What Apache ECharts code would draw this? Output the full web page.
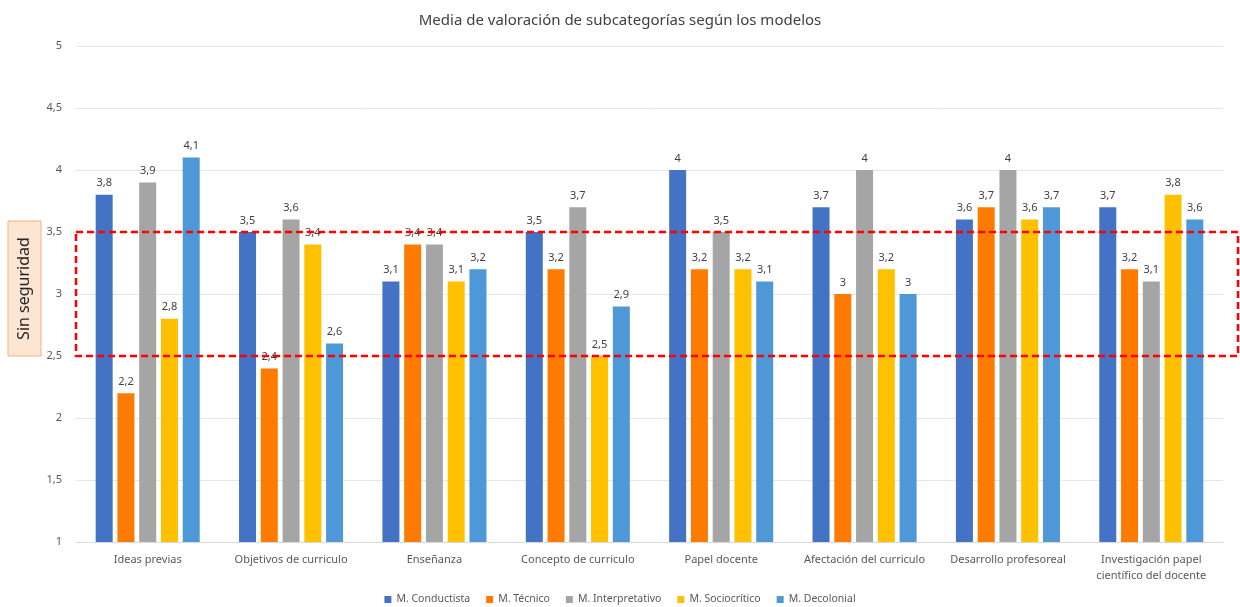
<!DOCTYPE html>
<html>
<head>
<meta charset="utf-8">
<script src="https://cdn.jsdelivr.net/npm/echarts@6/dist/echarts.min.js"></script>
<style>
  html, body { margin: 0; padding: 0; background: #fff; }
  #chart { width: 1240px; height: 607px; }
</style>
</head>
<body>
<div id="chart"></div>
<script>
const categories = [
  'Ideas previas',
  'Objetivos de curriculo',
  'Enseñanza',
  'Concepto de curriculo',
  'Papel docente',
  'Afectación del curriculo',
  'Desarrollo profesoreal',
  'Investigación papel\ncientífico del docente'
];
const seriesNames = ['M. Conductista', 'M. Técnico', 'M. Interpretativo', 'M. Sociocrítico', 'M. Decolonial'];
const conductista   = [3.8, 3.5, 3.1, 3.5, 4.0, 3.7, 3.6, 3.7];
const tecnico       = [2.2, 2.4, 3.4, 3.2, 3.2, 3.0, 3.7, 3.2];
const interpretativo= [3.9, 3.6, 3.4, 3.7, 3.5, 4.0, 4.0, 3.1];
const sociocritico  = [2.8, 3.4, 3.1, 2.5, 3.2, 3.2, 3.6, 3.8];
const decolonial    = [4.1, 2.6, 3.2, 2.9, 3.1, 3.0, 3.7, 3.6];
const colors = ['#4472C4', '#FF7B00', '#A5A5A5', '#FFC000', '#4E98D8'];
// band marked as "Sin seguridad"
const bandLow = 2.5, bandHigh = 3.5;

const font = 'Noto Sans, sans-serif';
const chart = echarts.init(document.getElementById('chart'));
const values = [conductista, tecnico, interpretativo, sociocritico, decolonial];

chart.setOption({
  animation: false,
  title: {
    text: 'Media de valoración de subcategorías según los modelos',
    left: 'center', top: 8,
    textStyle: { fontFamily: font, fontSize: 15, fontWeight: 'normal', color: '#404040' }
  },
  legend: {
    bottom: -3, left: 'center',
    itemWidth: 7, itemHeight: 7, itemGap: 16,
    icon: 'rect',
    textStyle: { fontFamily: font, fontSize: 10.5, color: '#595959' },
    data: seriesNames
  },
  grid: { left: 76, right: 17, top: 46, bottom: 65 },
  xAxis: {
    type: 'category',
    data: categories,
    axisTick: { show: false },
    axisLine: { lineStyle: { color: '#d9d9d9' } },
    axisLabel: { fontFamily: font, fontSize: 11, color: '#595959', margin: 10, lineHeight: 16, interval: 0 }
  },
  yAxis: {
    type: 'value', min: 1, max: 5, interval: 0.5,
    axisLine: { show: false }, axisTick: { show: false },
    splitLine: { lineStyle: { color: '#e6e6e6' } },
    axisLabel: {
      fontFamily: font, fontSize: 11, color: '#595959', margin: 14,
      formatter: v => String(v).replace('.', ',')
    }
  },
  series: seriesNames.map((name, i) => ({
    name, type: 'bar',
    data: values[i],
    barWidth: 17, barGap: '28%',
    itemStyle: { color: colors[i] },
    label: {
      show: true, position: 'top', distance: 6,
      fontFamily: font, fontSize: 11, color: '#404040',
      formatter: p => String(p.value).replace('.', ',')
    }
  }))
});

// dashed band and its side label, positioned from the value scale
function drawBand() {
  const yTop = chart.convertToPixel({ yAxisIndex: 0 }, bandHigh);
  const yBot = chart.convertToPixel({ yAxisIndex: 0 }, bandLow);
  const xLeft = 76;
  chart.setOption({
    graphic: [
      {
        type: 'rect', silent: true, z: 100,
        shape: { x: xLeft, y: yTop, width: 1238 - xLeft, height: yBot - yTop },
        style: { fill: 'none', stroke: '#FF0000', lineWidth: 2.5, lineDash: [7, 4] }
      },
      {
        type: 'rect', silent: true, z: 100,
        shape: { x: 8, y: yTop - 11, width: 33, height: yBot - yTop + 11 },
        style: { fill: '#FDE5D3', stroke: '#F6B27E', lineWidth: 1 }
      },
      {
        type: 'text', silent: true, z: 101,
        x: 24.5, y: (yTop - 11 + yBot) / 2, rotation: Math.PI / 2,
        style: {
          text: 'Sin seguridad', fontFamily: font, fontSize: 16, fill: '#262626',
          align: 'center', verticalAlign: 'middle'
        }
      }
    ]
  });
}
drawBand();
</script>
</body>
</html>
